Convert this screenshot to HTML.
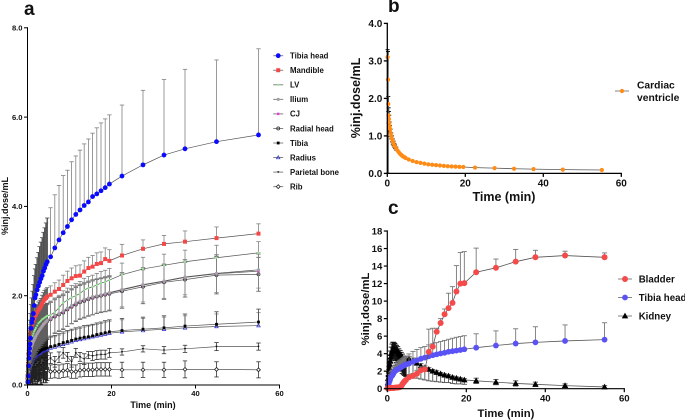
<!DOCTYPE html>
<html lang="en">
<head>
<meta charset="utf-8">
<title>Tracer time-activity curves</title>
<style>
html,body{margin:0;padding:0;background:#fff;}
svg{display:block;}
text{font-family:"Liberation Sans",sans-serif;font-weight:bold;fill:#111;}
</style>
</head>
<body>
<svg id="fig" width="685" height="420" viewBox="0 0 685 420" xmlns="http://www.w3.org/2000/svg">
  <text x="24" y="15" font-size="19">a</text>
  <text x="388" y="12" font-size="19">b</text>
  <text x="388" y="214" font-size="19">c</text>
  <text transform="translate(8,206) rotate(-90)" text-anchor="middle" font-size="9">%inj.dose/mL</text>
  <text x="153" y="408" text-anchor="middle" font-size="9">Time (min)</text>
  <text transform="translate(360,98) rotate(-90)" text-anchor="middle" font-size="12.5">%inj.dose/mL</text>
  <text x="504" y="201" text-anchor="middle" font-size="12.5">Time (min)</text>
  <text transform="translate(369,309) rotate(-90)" text-anchor="middle" font-size="11.3">%inj.dose/mL</text>
  <text x="506" y="417" text-anchor="middle" font-size="11.3">Time (min)</text>
  <g id="panelA"></g>
  <g id="panelB"></g>
  <g id="panelC"></g>
</svg>
<script>
// ---- shared frame mid-times (min)
const times = [0.08,0.17,0.25,0.33,0.42,0.5,0.6,0.7,0.85,1,1.2,1.4,1.6,1.8,2,2.3,2.6,2.9,3.2,3.5,3.8,4.1,4.4,4.7,5.5,6.5,7.5,8.5,9.5,10.5,11.5,12.5,13.5,14.5,15.5,16.5,17.5,18.5,19.5,22.5,27.5,32.5,37.5,45,55];

// ---- panel a tick labels
const aYTicks = ["0.0","2.0","4.0","6.0","8.0"];
const aXTicks = ["0","20","40","60"];
// ---- panel b tick labels
const bYTicks = ["0.0","1.0","2.0","3.0","4.0"];
const bXTicks = ["0","20","40","60"];
// ---- panel c tick labels
const cYTicks = ["0","2","4","6","8","10","12","14","16","18"];
const cXTicks = ["0","20","40","60"];

// ---- panel a values
const tibiaHead = [.07,.2,.43,.6,.71,.82,.92,1.05,1.27,1.4,1.48,1.6,1.78,1.95,2.02,2.13,2.22,2.3,2.38,2.45,2.55,2.62,2.7,2.76,2.87,3.07,3.25,3.41,3.55,3.7,3.82,3.92,4.02,4.1,4.22,4.28,4.35,4.42,4.5,4.68,4.93,5.15,5.29,5.45,5.6];
const tibiaHeadTop = [.12,.35,.7,1,1.15,1.3,1.45,1.6,1.8,1.95,2.1,2.25,2.45,2.6,2.7,2.85,2.97,3.1,3.2,3.3,3.42,3.52,3.63,3.74,3.97,4.26,4.47,4.69,4.81,5,5.13,5.26,5.4,5.51,5.64,5.76,5.87,5.96,6.05,6.27,6.6,6.84,7.07,7.28,7.53];
const mandible = [.2,.45,.7,.9,1,1.1,1.15,1.22,1.28,1.32,1.4,1.45,1.5,1.55,1.58,1.63,1.68,1.72,1.76,1.82,1.88,1.92,1.95,1.98,2.02,2.09,2.15,2.24,2.33,2.39,2.44,2.45,2.54,2.62,2.65,2.71,2.73,2.82,2.78,2.9,3.05,3.16,3.21,3.29,3.39];
const mandibleErr = [.03,.06,.08,.1,.1,.12,.12,.13,.13,.14,.15,.15,.16,.16,.17,.17,.18,.18,.18,.19,.19,.2,.2,.2,.2,.2,.2,.22,.22,.23,.23,.24,.24,.24,.25,.25,.25,.25,.25,.25,.2,.19,.24,.25,.22];
const lv = [.12,.35,.52,.63,.72,.78,.84,.9,.98,1.05,1.1,1.15,1.2,1.24,1.28,1.33,1.38,1.41,1.44,1.47,1.49,1.51,1.53,1.55,1.57,1.63,1.73,1.84,1.9,1.96,2,2.05,2.13,2.17,2.2,2.24,2.28,2.31,2.35,2.47,2.6,2.68,2.76,2.85,2.96];
const lvErr = [.05,.1,.15,.2,.2,.22,.22,.24,.25,.25,.26,.26,.27,.27,.27,.28,.28,.28,.28,.28,.28,.28,.28,.28,.28,.28,.28,.27,.27,.27,.27,.27,.26,.26,.26,.26,.26,.26,.26,.26,.26,.25,.26,.28,.25];
const ilium = [.15,.3,.42,.52,.6,.66,.7,.75,.82,.88,.92,.98,1.02,1.06,1.1,1.15,1.2,1.24,1.28,1.32,1.36,1.39,1.42,1.45,1.5,1.57,1.6,1.66,1.72,1.78,1.84,1.88,1.92,1.95,1.98,2,2.02,2.05,2.07,2.14,2.25,2.33,2.42,2.5,2.58];
const cj = [.13,.28,.4,.5,.58,.64,.69,.74,.8,.86,.91,.96,1,1.05,1.09,1.14,1.19,1.23,1.27,1.31,1.35,1.38,1.41,1.44,1.48,1.55,1.6,1.64,1.7,1.76,1.82,1.87,1.9,1.94,1.96,1.99,2.02,2.03,2.06,2.13,2.24,2.32,2.41,2.49,2.55];
const radialHead = [.12,.26,.38,.48,.56,.62,.67,.72,.79,.85,.9,.95,.99,1.03,1.07,1.13,1.18,1.22,1.26,1.3,1.33,1.37,1.4,1.43,1.47,1.53,1.58,1.62,1.69,1.75,1.8,1.85,1.88,1.92,1.95,1.98,2,2.02,2.04,2.1,2.2,2.3,2.36,2.46,2.48];
const midErr = [.08,.12,.16,.2,.22,.24,.26,.28,.3,.32,.33,.34,.35,.36,.36,.37,.37,.38,.38,.38,.38,.38,.38,.38,.38,.38,.38,.38,.38,.38,.38,.38,.38,.38,.38,.38,.38,.38,.38,.38,.38,.38,.39,.42,.38];
const tibia = [.1,.2,.27,.33,.38,.42,.46,.49,.53,.56,.59,.62,.65,.67,.69,.71,.73,.75,.77,.79,.8,.81,.82,.83,.86,.88,.91,.95,.97,1,1.03,1.05,1.07,1.08,1.1,1.13,1.15,1.17,1.19,1.22,1.25,1.28,1.32,1.36,1.41];
const tibiaErr = [.05,.08,.1,.12,.12,.13,.14,.15,.16,.17,.18,.18,.19,.19,.2,.2,.2,.2,.2,.21,.21,.21,.22,.22,.23,.23,.24,.24,.25,.25,.25,.25,.26,.26,.26,.26,.26,.27,.27,.27,.27,.27,.27,.28,.29];
const radius = [.08,.17,.24,.3,.35,.39,.43,.46,.5,.53,.56,.59,.62,.64,.66,.68,.7,.72,.74,.76,.77,.78,.79,.8,.83,.85,.88,.91,.94,.97,1,1.02,1.04,1.06,1.08,1.1,1.12,1.14,1.16,1.19,1.22,1.25,1.28,1.31,1.33];
const parietal = [.1,.18,.25,.3,.3,.35,.4,.3,.35,.45,.4,.5,.45,.4,.5,.45,.55,.5,.45,.6,.5,.55,.6,.55,.6,.52,.62,.72,.63,.52,.72,.63,.58,.67,.65,.67,.68,.68,.72,.74,.81,.78,.81,.86,.86];
const parietalErr = [.1,.15,.2,.25,.22,.28,.3,.22,.26,.3,.25,.3,.28,.25,.3,.25,.28,.25,.22,.28,.22,.25,.25,.2,.12,.12,.12,.12,.1,.12,.1,.1,.12,.08,.1,.1,.1,.1,.1,.07,.07,.08,.08,.09,.08];
const rib = [.15,.25,.3,.35,.4,.3,.38,.28,.42,.35,.3,.45,.38,.33,.42,.3,.37,.4,.3,.45,.35,.42,.33,.38,.3,.31,.3,.32,.33,.3,.3,.33,.34,.34,.34,.35,.35,.35,.35,.34,.34,.34,.35,.35,.34];
const ribErr = [.15,.25,.3,.3,.3,.28,.3,.28,.3,.3,.28,.3,.3,.3,.3,.28,.3,.3,.28,.3,.3,.3,.28,.28,.15,.15,.15,.15,.15,.15,.15,.15,.15,.15,.15,.15,.15,.15,.15,.17,.17,.17,.19,.17,.18];
const noErr = [0,0,0,0,0,0,0,0,0,0,0,0,0,0,0,0,0,0,0,0,0,0,0,0,0,0,0,0,0,0,0,0,0,0,0,0,0,0,0,0,0,0,0,0,0];

// ---- panel b values
const cardiac = [3.1,2.5,1.85,1.55,1.45,1.35,1.25,1.18,1.08,1,.92,.85,.8,.75,.71,.66,.61,.57,.53,.5,.47,.45,.43,.41,.37,.33,.3,.28,.26,.24,.23,.22,.21,.2,.19,.185,.18,.175,.17,.155,.14,.125,.115,.1,.09];
const cardiacErrUp = [.2,.75,.2,.2,.2,.2,.12,.1,.1,.08,.08,.07,.06,.05,.05,.04,0,0,0,0,0,0,0,0,0,0,0,0,0,0,0,0,0,0,0,0,0,0,0,0,0,0,0,0,0];
const cardiacErrDown = [3.1,2.5,.2,.2,.2,.2,.12,.1,.1,.08,.08,.07,.06,.05,.05,.04,0,0,0,0,0,0,0,0,0,0,0,0,0,0,0,0,0,0,0,0,0,0,0,0,0,0,0,0,0];

// ---- panel c values
const bladder = [.05,.05,.05,.05,.06,.06,.07,.07,.08,.08,.09,.1,.1,.1,.12,.12,.15,.15,.2,.3,.5,.7,.85,1,1.3,1.45,1.7,2.1,2.2,4.2,4.8,6.5,7.5,8.5,9.2,9.8,11.1,12,12.05,13.3,13.8,14.5,15,15.2,15];
const bladderErr = [0,0,0,0,0,0,0,0,0,0,0,0,0,0,0,0,0,0,0,0,0,0,0,0,.3,.3,.4,.4,.4,2.6,2.1,.4,.5,.6,1.7,1.85,2.95,3.55,3.6,2.75,1,1.4,.8,.5,.5];
const kidney = [.3,.7,1.2,1.6,2,2.4,2.8,3.2,3.6,4,4.3,4.5,4.5,4.45,4.4,4.3,4.2,4,3.85,3.7,3.55,3.4,3.3,3.2,3.4,3.2,2.9,2.6,2.4,2.2,2,1.85,1.7,1.55,1.45,1.3,1.2,1.1,1,.9,.75,.6,.5,.35,.2];
const kidneyErrUp = [.1,.2,.3,.4,.5,.55,.6,.65,.7,.75,.8,.8,.8,.75,.7,.65,.6,.55,.5,.45,.4,.35,.35,.3,.3,.3,.25,.25,.2,.2,.2,.2,.15,.15,.15,.15,.15,.15,.15,.3,.3,.3,.25,.2,.15];
const kidneyErrDown = [.1,.2,.3,.4,.5,.55,.6,.65,.7,.75,.8,.9,1,1.1,1.2,1.3,1.4,1.5,1.6,1.7,1.8,1.8,1.8,1.8,1.8,1.8,1.7,1.5,1.4,1.3,1.15,1.05,.95,.85,.75,.7,.65,.55,.5,.3,.3,.3,.25,.2,.15];

const NS = 'http://www.w3.org/2000/svg';
function make(parent, tag, name, attrs) {
  const el = document.createElementNS(NS, tag);
  
  
  for (const k in attrs) el.setAttribute(k, attrs[k]);
  parent.appendChild(el);
  return el;
}
function marker(parent, name, shape, x, y, r, color) {
  if (shape === 'circle') make(parent, 'circle', name, {cx:x, cy:y, r:r, fill:color});
  else if (shape === 'ring') make(parent, 'circle', name, {cx:x, cy:y, r:r, fill:'none', stroke:color, 'stroke-width':.8});
  else if (shape === 'square') make(parent, 'rect', name, {x:x-r, y:y-r, width:2*r, height:2*r, fill:color});
  else if (shape === 'tri') make(parent, 'polygon', name, {points:`${x},${y-r*1.2} ${x-r*1.15},${y+r*.85} ${x+r*1.15},${y+r*.85}`, fill:color});
  else if (shape === 'triopen') make(parent, 'polygon', name, {points:`${x},${y-r*1.2} ${x-r*1.15},${y+r*.85} ${x+r*1.15},${y+r*.85}`, fill:'none', stroke:color, 'stroke-width':.7});
  else if (shape === 'dtri') make(parent, 'polygon', name, {points:`${x},${y+r*1.2} ${x-r*1.15},${y-r*.85} ${x+r*1.15},${y-r*.85}`, fill:color});
  else if (shape === 'diamond') make(parent, 'polygon', name, {points:`${x},${y-r} ${x-r},${y} ${x},${y+r} ${x+r},${y}`, fill:'#fff', stroke:color, 'stroke-width':.8});
}
function drawAxes(g, p, yTicks, xTicks) {
  make(g, 'line', 'y-axis-line', {x1:p.x0, x2:p.x0, y1:p.yf(p.yMax)-p.lw/2, y2:p.yf(0)+p.lw/2, stroke:'#000', 'stroke-width':p.lw});
  make(g, 'line', 'x-axis-line', {x1:p.x0, x2:p.xf(p.xMax)+p.lw/2, y1:p.yf(0), y2:p.yf(0), stroke:'#000', 'stroke-width':p.lw});
  yTicks.forEach(function (lab) {
    const y = p.yf(parseFloat(lab));
    make(g, 'line', 'y-tick', {x1:p.x0-3.5, x2:p.x0, y1:y, y2:y, stroke:'#000', 'stroke-width':p.lw});
    const t = make(g, 'text', 'y-tick-label', {x:p.x0-5, y:y+p.fs*.36, 'text-anchor':'end', 'font-size':p.fs});
    t.textContent = lab;
  });
  xTicks.forEach(function (lab) {
    const x = p.xf(parseFloat(lab));
    make(g, 'line', 'x-tick', {x1:x, x2:x, y1:p.yf(0), y2:p.yf(0)+3.5, stroke:'#000', 'stroke-width':p.lw});
    const t = make(g, 'text', 'x-tick-label', {x:x, y:p.yf(0)+5+p.fs*.8, 'text-anchor':'middle', 'font-size':p.fs});
    t.textContent = lab;
  });
}
function drawSeries(g, p, s) {
  const sg = make(g, 'g', 'series-' + s.key, {});
  times.forEach(function (t, i) {
    const x = p.xf(t);
    const top = p.yf(s.values[i] + s.up[i]);
    const bot = p.yf(Math.max(0, s.values[i] - s.down[i]));
    const y = p.yf(s.values[i]);
    const early = t < 5;
    const colour = early ? (s.earlyErr || s.err) : s.err;
    const width = early ? p.ew * p.earlyW : p.ew;
    if (s.up[i] > 0) {
      make(sg, 'line', 'error-bar', {x1:x, x2:x, y1:y, y2:top, stroke:colour, 'stroke-width':width});
      make(sg, 'line', 'error-cap', {x1:x-p.cap, x2:x+p.cap, y1:top, y2:top, stroke:colour, 'stroke-width':p.ew});
    }
    if (s.down[i] > 0) {
      make(sg, 'line', 'error-bar', {x1:x, x2:x, y1:y, y2:bot, stroke:colour, 'stroke-width':width});
      make(sg, 'line', 'error-cap', {x1:x-p.cap, x2:x+p.cap, y1:bot, y2:bot, stroke:colour, 'stroke-width':p.ew});
    }
  });
  const pts = times.map(function (t, i) { return p.xf(t) + ',' + p.yf(s.values[i]); }).join(' ');
  make(sg, 'polyline', 'series-line', {points:pts, fill:'none', stroke:'#555', 'stroke-width':p.lineW});
  times.forEach(function (t, i) {
    marker(sg, 'data-point', s.shape, p.xf(t), p.yf(s.values[i]), s.r, s.color);
  });
}
function drawLegend(g, items, x, y0, dy, fs, half, textGap) {
  items.forEach(function (s, i) {
    const lg = make(g, 'g', 'legend-entry', {});
    const y = y0 + i * dy;
    make(lg, 'line', 'legend-line', {x1:x-half, x2:x+half, y1:y, y2:y, stroke:'#777', 'stroke-width':.9});
    marker(lg, 'legend-marker', s.shape, x, y, s.r, s.color);
    (s.label instanceof Array ? s.label : [s.label]).forEach(function (line, j, all) {
      const t = make(lg, 'text', 'legend-label', {x:x+textGap, y:y+fs*.36+(j-(all.length-1)/2)*fs*1.22, 'font-size':fs});
      t.textContent = line;
    });
  });
}

const tibiaUp = tibiaHeadTop.map(function (v, i) { return v - tibiaHead[i]; });

// ---- panel a
const pA = {x0:27.5, xMax:60, yMax:8, lw:1, fs:7.6, ew:.8, earlyW:1.7, cap:2.2, lineW:.7,
  xf:function (t) { return 27.5 + t * 4.2; }, yf:function (v) { return 385 - v * 44.65; }};
const aSeries = [
  {key:'tibia-head', label:'Tibia head', values:tibiaHead, up:tibiaUp, down:noErr, shape:'circle', r:2.4, color:'#0a0aff', err:'#808080', earlyErr:'#505050'},
  {key:'mandible', label:'Mandible', values:mandible, up:mandibleErr, down:noErr, shape:'square', r:2, color:'#f44848', err:'#808080', earlyErr:'#606060'},
  {key:'lv', label:'LV', values:lv, up:lvErr, down:noErr, shape:'circle', r:1.1, color:'#8fe88f', err:'#808080', earlyErr:'#606060'},
  {key:'ilium', label:'Ilium', values:ilium, up:midErr, down:noErr, shape:'circle', r:1.6, color:'#a8a0a8', err:'#808080', earlyErr:'#606060'},
  {key:'cj', label:'CJ', values:cj, up:midErr, down:midErr, shape:'square', r:1.2, color:'#e040d8', err:'#888', earlyErr:'#606060'},
  {key:'radial-head', label:'Radial head', values:radialHead, up:midErr, down:midErr, shape:'ring', r:1.5, color:'#333', err:'#555', earlyErr:'#444'},
  {key:'tibia', label:'Tibia', values:tibia, up:tibiaErr, down:noErr, shape:'square', r:1.4, color:'#000', err:'#444', earlyErr:'#222'},
  {key:'radius', label:'Radius', values:radius, up:tibiaErr, down:noErr, shape:'triopen', r:1.5, color:'#2a2ad0', err:'#888', earlyErr:'#444'},
  {key:'parietal-bone', label:'Parietal bone', values:parietal, up:parietalErr, down:parietalErr, shape:'dtri', r:1, color:'#111', err:'#333', earlyErr:'#222'},
  {key:'rib', label:'Rib', values:rib, up:ribErr, down:ribErr, shape:'diamond', r:1.9, color:'#222', err:'#333', earlyErr:'#222'}
];
const gA = document.getElementById('panelA');
aSeries.slice().reverse().forEach(function (s) { drawSeries(gA, pA, s); });
drawAxes(gA, pA, aYTicks, aXTicks);
drawLegend(gA, aSeries, 278.2, 55.7, 14.55, 7.8, 5, 11.8);

// ---- panel b
const pB = {x0:387.3, xMax:60, yMax:4, lw:1.3, fs:10, ew:1, earlyW:1.2, cap:2, lineW:.8,
  xf:function (t) { return 387.3 + t * 3.9; }, yf:function (v) { return 173.4 - v * 37.5; }};
const bSeries = [
  {key:'cardiac-ventricle', label:['Cardiac','ventricle'], values:cardiac, up:cardiacErrUp, down:cardiacErrDown, shape:'circle', r:2.1, color:'#ff8a14', err:'#111'}
];
const gB = document.getElementById('panelB');
bSeries.forEach(function (s) { drawSeries(gB, pB, s); });
drawAxes(gB, pB, bYTicks, bXTicks);
drawLegend(gB, bSeries, 622, 91, 0, 10.3, 7, 15);

// ---- panel c
const pC = {x0:387.3, xMax:60, yMax:18, lw:1.2, fs:9.6, ew:.9, earlyW:1.6, cap:2.6, lineW:.8,
  xf:function (t) { return 387.3 + t * 3.95; }, yf:function (v) { return 388.7 - v * 8.76; }};
const cSeries = [
  {key:'bladder', label:'Bladder', values:bladder, up:bladderErr, down:noErr, shape:'circle', r:3, color:'#f44a4a', err:'#777'},
  {key:'tibia-head', label:'Tibia head', values:tibiaHead, up:tibiaUp, down:noErr, shape:'circle', r:2.9, color:'#5a52f5', err:'#777'},
  {key:'kidney', label:'Kidney', values:kidney, up:kidneyErrUp, down:kidneyErrDown, shape:'tri', r:2.8, color:'#000', err:'#555', earlyErr:'#111'}
];
const gC = document.getElementById('panelC');
cSeries.slice().reverse().forEach(function (s) { drawSeries(gC, pC, s); });
drawAxes(gC, pC, cYTicks, cXTicks);
drawLegend(gC, cSeries, 625, 279, 18.5, 9.7, 7, 13.7);
</script>
</body>
</html>
